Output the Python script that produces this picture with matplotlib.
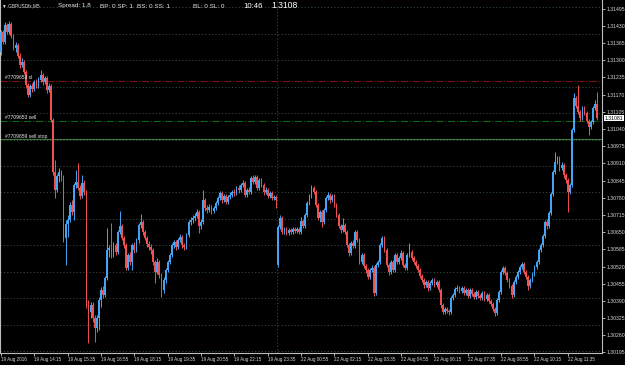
import matplotlib
matplotlib.use("Agg")
import matplotlib.pyplot as plt
import matplotlib.transforms as mtransforms
import numpy as np

# GBPUSD M5 candles, 19 Aug 2016 12:55 -> 22 Aug 2016 (server time)
opens = [
    1.31331, 1.31407, 1.31369, 1.31433, 1.31407, 1.31437, 1.31392, 1.31347, 1.31358, 1.31316,
    1.31282, 1.31294, 1.31256, 1.31207, 1.31169, 1.31203, 1.31192, 1.31218, 1.31203, 1.31226,
    1.31244, 1.31218, 1.31233, 1.31188, 1.31203, 1.31074, 1.30877, 1.30810, 1.30862, 1.30877,
    1.30855, 1.30629, 1.30682, 1.30697, 1.30753, 1.30726, 1.30829, 1.30840, 1.30818, 1.30787,
    1.30837, 1.30802, 1.30375, 1.30348, 1.30375, 1.30326, 1.30289, 1.30326, 1.30394, 1.30432,
    1.30413, 1.30478, 1.30583, 1.30591, 1.30564, 1.30602, 1.30575, 1.30651, 1.30674, 1.30629,
    1.30602, 1.30516, 1.30564, 1.30538, 1.30602, 1.30583, 1.30621, 1.30678, 1.30689, 1.30651,
    1.30629, 1.30606, 1.30595, 1.30583, 1.30538, 1.30500, 1.30538, 1.30489, 1.30432, 1.30470,
    1.30508, 1.30538, 1.30564, 1.30602, 1.30613, 1.30595, 1.30621, 1.30633, 1.30602, 1.30595,
    1.30640, 1.30689, 1.30697, 1.30704, 1.30711, 1.30726, 1.30674, 1.30689, 1.30772, 1.30742,
    1.30734, 1.30746, 1.30730, 1.30742, 1.30761, 1.30780, 1.30799, 1.30772, 1.30787, 1.30764,
    1.30784, 1.30791, 1.30802, 1.30799, 1.30818, 1.30810, 1.30829, 1.30837, 1.30791, 1.30810,
    1.30802, 1.30855, 1.30840, 1.30859, 1.30818, 1.30848, 1.30829, 1.30802, 1.30810, 1.30787,
    1.30799, 1.30780, 1.30784, 1.30527, 1.30671, 1.30704, 1.30651, 1.30663, 1.30648, 1.30659,
    1.30651, 1.30663, 1.30655, 1.30663, 1.30651, 1.30693, 1.30674, 1.30715, 1.30761, 1.30787,
    1.30818, 1.30802, 1.30753, 1.30704, 1.30726, 1.30689, 1.30734, 1.30780, 1.30791, 1.30772,
    1.30787, 1.30753, 1.30715, 1.30674, 1.30659, 1.30678, 1.30651, 1.30602, 1.30572, 1.30610,
    1.30598, 1.30651, 1.30621, 1.30538, 1.30564, 1.30523, 1.30508, 1.30482, 1.30508, 1.30516,
    1.30421, 1.30527, 1.30538, 1.30602, 1.30629, 1.30583, 1.30527, 1.30500, 1.30538, 1.30508,
    1.30564, 1.30538, 1.30553, 1.30572, 1.30527, 1.30516, 1.30564, 1.30575, 1.30553, 1.30538,
    1.30523, 1.30508, 1.30485, 1.30470, 1.30451, 1.30462, 1.30440, 1.30459, 1.30470, 1.30451,
    1.30462, 1.30432, 1.30375, 1.30348, 1.30360, 1.30352, 1.30348, 1.30402, 1.30413, 1.30436,
    1.30440, 1.30428, 1.30440, 1.30421, 1.30432, 1.30409, 1.30432, 1.30417, 1.30406, 1.30424,
    1.30409, 1.30402, 1.30421, 1.30398, 1.30413, 1.30390, 1.30379, 1.30360, 1.30345, 1.30394,
    1.30424, 1.30500, 1.30516, 1.30497, 1.30470, 1.30447, 1.30413, 1.30462, 1.30482, 1.30500,
    1.30520, 1.30531, 1.30500, 1.30482, 1.30447, 1.30470, 1.30493, 1.30520, 1.30538, 1.30583,
    1.30602, 1.30636, 1.30689, 1.30674, 1.30723, 1.30795, 1.30877, 1.30915, 1.30931, 1.30893,
    1.30904, 1.30866, 1.30848, 1.30802, 1.30829, 1.31037, 1.31158, 1.31127, 1.31104, 1.31082,
    1.31120, 1.31101, 1.31070, 1.31048, 1.31066, 1.31120, 1.31135,
]
highs = [
    1.31415, 1.31415, 1.31445, 1.31441, 1.31449, 1.31445, 1.31399, 1.31369, 1.31365, 1.31328,
    1.31309, 1.31301, 1.31263, 1.31214, 1.31210, 1.31214, 1.31226, 1.31229, 1.31237, 1.31263,
    1.31252, 1.31241, 1.31241, 1.31214, 1.31210, 1.31082, 1.30923, 1.30870, 1.30893, 1.30885,
    1.30866, 1.30697, 1.30715, 1.30764, 1.30772, 1.30837, 1.30885, 1.30912, 1.30829, 1.30866,
    1.30848, 1.30810, 1.30394, 1.30386, 1.30386, 1.30337, 1.30337, 1.30406, 1.30444, 1.30447,
    1.30485, 1.30667, 1.30602, 1.30686, 1.30613, 1.30610, 1.30659, 1.30730, 1.30682, 1.30636,
    1.30610, 1.30572, 1.30575, 1.30610, 1.30613, 1.30629, 1.30686, 1.30719, 1.30697, 1.30659,
    1.30636, 1.30617, 1.30606, 1.30591, 1.30546, 1.30553, 1.30546, 1.30497, 1.30482, 1.30516,
    1.30546, 1.30572, 1.30610, 1.30621, 1.30621, 1.30629, 1.30644, 1.30640, 1.30610, 1.30648,
    1.30697, 1.30708, 1.30715, 1.30723, 1.30738, 1.30734, 1.30700, 1.30810, 1.30780, 1.30753,
    1.30757, 1.30753, 1.30749, 1.30768, 1.30787, 1.30806, 1.30806, 1.30795, 1.30795, 1.30791,
    1.30802, 1.30810, 1.30814, 1.30825, 1.30829, 1.30837, 1.30848, 1.30844, 1.30818, 1.30822,
    1.30862, 1.30866, 1.30866, 1.30866, 1.30855, 1.30855, 1.30837, 1.30822, 1.30818, 1.30806,
    1.30806, 1.30791, 1.30791, 1.30678, 1.30715, 1.30711, 1.30671, 1.30671, 1.30667, 1.30667,
    1.30671, 1.30671, 1.30671, 1.30671, 1.30708, 1.30700, 1.30723, 1.30768, 1.30795, 1.30829,
    1.30825, 1.30810, 1.30761, 1.30734, 1.30734, 1.30742, 1.30787, 1.30802, 1.30799, 1.30795,
    1.30795, 1.30761, 1.30723, 1.30682, 1.30704, 1.30686, 1.30659, 1.30610, 1.30617, 1.30621,
    1.30659, 1.30659, 1.30629, 1.30572, 1.30572, 1.30531, 1.30516, 1.30516, 1.30527, 1.30523,
    1.30535, 1.30546, 1.30610, 1.30636, 1.30636, 1.30591, 1.30535, 1.30546, 1.30546, 1.30572,
    1.30572, 1.30560, 1.30583, 1.30579, 1.30535, 1.30572, 1.30610, 1.30583, 1.30560, 1.30546,
    1.30531, 1.30516, 1.30493, 1.30478, 1.30470, 1.30470, 1.30466, 1.30478, 1.30478, 1.30470,
    1.30470, 1.30440, 1.30383, 1.30368, 1.30368, 1.30360, 1.30409, 1.30421, 1.30444, 1.30451,
    1.30447, 1.30447, 1.30447, 1.30440, 1.30440, 1.30440, 1.30440, 1.30424, 1.30432, 1.30432,
    1.30417, 1.30428, 1.30428, 1.30421, 1.30421, 1.30398, 1.30386, 1.30368, 1.30402, 1.30432,
    1.30508, 1.30523, 1.30523, 1.30504, 1.30478, 1.30455, 1.30470, 1.30489, 1.30508, 1.30527,
    1.30538, 1.30538, 1.30508, 1.30489, 1.30478, 1.30500, 1.30527, 1.30546, 1.30591, 1.30610,
    1.30644, 1.30697, 1.30700, 1.30730, 1.30802, 1.30885, 1.30953, 1.30938, 1.30938, 1.30915,
    1.30912, 1.30874, 1.30855, 1.30837, 1.31044, 1.31176, 1.31165, 1.31207, 1.31112, 1.31127,
    1.31127, 1.31108, 1.31078, 1.31074, 1.31127, 1.31150, 1.31180,
]
lows = [
    1.31320, 1.31362, 1.31362, 1.31399, 1.31399, 1.31384, 1.31339, 1.31331, 1.31309, 1.31271,
    1.31275, 1.31248, 1.31195, 1.31161, 1.31161, 1.31180, 1.31184, 1.31195, 1.31195, 1.31218,
    1.31207, 1.31210, 1.31176, 1.31180, 1.31066, 1.30866, 1.30780, 1.30802, 1.30840, 1.30844,
    1.30613, 1.30527, 1.30633, 1.30689, 1.30715, 1.30697, 1.30818, 1.30810, 1.30776, 1.30780,
    1.30791, 1.30364, 1.30232, 1.30326, 1.30311, 1.30235, 1.30273, 1.30281, 1.30368, 1.30402,
    1.30406, 1.30470, 1.30557, 1.30553, 1.30557, 1.30564, 1.30568, 1.30644, 1.30621, 1.30591,
    1.30508, 1.30508, 1.30527, 1.30508, 1.30572, 1.30575, 1.30610, 1.30667, 1.30640, 1.30621,
    1.30595, 1.30583, 1.30568, 1.30527, 1.30459, 1.30493, 1.30478, 1.30406, 1.30421, 1.30459,
    1.30500, 1.30531, 1.30557, 1.30591, 1.30583, 1.30587, 1.30613, 1.30591, 1.30583, 1.30587,
    1.30633, 1.30678, 1.30686, 1.30693, 1.30704, 1.30648, 1.30663, 1.30682, 1.30730, 1.30723,
    1.30726, 1.30719, 1.30723, 1.30734, 1.30753, 1.30772, 1.30761, 1.30764, 1.30757, 1.30757,
    1.30776, 1.30784, 1.30787, 1.30791, 1.30799, 1.30802, 1.30822, 1.30784, 1.30784, 1.30795,
    1.30795, 1.30833, 1.30833, 1.30810, 1.30810, 1.30822, 1.30791, 1.30795, 1.30780, 1.30780,
    1.30772, 1.30772, 1.30742, 1.30520, 1.30663, 1.30644, 1.30644, 1.30640, 1.30640, 1.30644,
    1.30644, 1.30648, 1.30648, 1.30644, 1.30644, 1.30667, 1.30667, 1.30708, 1.30753, 1.30780,
    1.30795, 1.30746, 1.30697, 1.30689, 1.30671, 1.30682, 1.30726, 1.30772, 1.30761, 1.30764,
    1.30746, 1.30708, 1.30667, 1.30648, 1.30651, 1.30644, 1.30595, 1.30560, 1.30564, 1.30591,
    1.30591, 1.30613, 1.30531, 1.30531, 1.30516, 1.30497, 1.30474, 1.30474, 1.30500, 1.30409,
    1.30413, 1.30520, 1.30531, 1.30595, 1.30575, 1.30520, 1.30489, 1.30493, 1.30500, 1.30500,
    1.30531, 1.30531, 1.30546, 1.30520, 1.30508, 1.30508, 1.30557, 1.30546, 1.30531, 1.30516,
    1.30500, 1.30478, 1.30462, 1.30440, 1.30444, 1.30428, 1.30432, 1.30451, 1.30444, 1.30444,
    1.30424, 1.30364, 1.30341, 1.30341, 1.30345, 1.30337, 1.30341, 1.30394, 1.30406, 1.30428,
    1.30421, 1.30421, 1.30413, 1.30413, 1.30402, 1.30402, 1.30409, 1.30398, 1.30398, 1.30402,
    1.30394, 1.30394, 1.30390, 1.30390, 1.30383, 1.30371, 1.30352, 1.30333, 1.30337, 1.30386,
    1.30417, 1.30493, 1.30489, 1.30462, 1.30440, 1.30402, 1.30406, 1.30455, 1.30474, 1.30493,
    1.30512, 1.30493, 1.30474, 1.30432, 1.30440, 1.30462, 1.30485, 1.30512, 1.30531, 1.30575,
    1.30595, 1.30629, 1.30663, 1.30667, 1.30715, 1.30787, 1.30870, 1.30908, 1.30881, 1.30885,
    1.30855, 1.30837, 1.30726, 1.30795, 1.30822, 1.31029, 1.31120, 1.31097, 1.31070, 1.31074,
    1.31093, 1.31063, 1.31018, 1.31040, 1.31059, 1.31112, 1.31074,
]
closes = [
    1.31407, 1.31369, 1.31433, 1.31407, 1.31437, 1.31392, 1.31347, 1.31358, 1.31316, 1.31282,
    1.31294, 1.31256, 1.31207, 1.31169, 1.31203, 1.31192, 1.31218, 1.31203, 1.31226, 1.31244,
    1.31218, 1.31233, 1.31188, 1.31203, 1.31074, 1.30877, 1.30810, 1.30862, 1.30877, 1.30855,
    1.30629, 1.30682, 1.30697, 1.30753, 1.30726, 1.30829, 1.30840, 1.30818, 1.30787, 1.30837,
    1.30802, 1.30375, 1.30348, 1.30375, 1.30326, 1.30289, 1.30326, 1.30394, 1.30432, 1.30413,
    1.30478, 1.30583, 1.30591, 1.30564, 1.30602, 1.30575, 1.30651, 1.30674, 1.30629, 1.30602,
    1.30516, 1.30564, 1.30538, 1.30602, 1.30583, 1.30621, 1.30678, 1.30689, 1.30651, 1.30629,
    1.30606, 1.30595, 1.30583, 1.30538, 1.30500, 1.30538, 1.30489, 1.30432, 1.30470, 1.30508,
    1.30538, 1.30564, 1.30602, 1.30613, 1.30595, 1.30621, 1.30633, 1.30602, 1.30595, 1.30640,
    1.30689, 1.30697, 1.30704, 1.30711, 1.30726, 1.30674, 1.30689, 1.30772, 1.30742, 1.30734,
    1.30746, 1.30730, 1.30742, 1.30761, 1.30780, 1.30799, 1.30772, 1.30787, 1.30764, 1.30784,
    1.30791, 1.30802, 1.30799, 1.30818, 1.30810, 1.30829, 1.30837, 1.30791, 1.30810, 1.30802,
    1.30855, 1.30840, 1.30859, 1.30818, 1.30848, 1.30829, 1.30802, 1.30810, 1.30787, 1.30799,
    1.30780, 1.30784, 1.30772, 1.30671, 1.30704, 1.30651, 1.30663, 1.30648, 1.30659, 1.30651,
    1.30663, 1.30655, 1.30663, 1.30651, 1.30693, 1.30674, 1.30715, 1.30761, 1.30787, 1.30818,
    1.30802, 1.30753, 1.30704, 1.30726, 1.30689, 1.30734, 1.30780, 1.30791, 1.30772, 1.30787,
    1.30753, 1.30715, 1.30674, 1.30659, 1.30678, 1.30651, 1.30602, 1.30572, 1.30610, 1.30598,
    1.30651, 1.30621, 1.30538, 1.30564, 1.30523, 1.30508, 1.30482, 1.30508, 1.30516, 1.30421,
    1.30527, 1.30538, 1.30602, 1.30629, 1.30583, 1.30527, 1.30500, 1.30538, 1.30508, 1.30564,
    1.30538, 1.30553, 1.30572, 1.30527, 1.30516, 1.30564, 1.30575, 1.30553, 1.30538, 1.30523,
    1.30508, 1.30485, 1.30470, 1.30451, 1.30462, 1.30440, 1.30459, 1.30470, 1.30451, 1.30462,
    1.30432, 1.30375, 1.30348, 1.30360, 1.30352, 1.30348, 1.30402, 1.30413, 1.30436, 1.30440,
    1.30428, 1.30440, 1.30421, 1.30432, 1.30409, 1.30432, 1.30417, 1.30406, 1.30424, 1.30409,
    1.30402, 1.30421, 1.30398, 1.30413, 1.30390, 1.30379, 1.30360, 1.30345, 1.30394, 1.30424,
    1.30500, 1.30516, 1.30497, 1.30470, 1.30447, 1.30413, 1.30462, 1.30482, 1.30500, 1.30520,
    1.30531, 1.30500, 1.30482, 1.30447, 1.30470, 1.30493, 1.30520, 1.30538, 1.30583, 1.30602,
    1.30636, 1.30689, 1.30674, 1.30723, 1.30795, 1.30877, 1.30915, 1.30931, 1.30893, 1.30904,
    1.30866, 1.30848, 1.30802, 1.30829, 1.31037, 1.31158, 1.31127, 1.31104, 1.31082, 1.31120,
    1.31101, 1.31070, 1.31048, 1.31066, 1.31120, 1.31135, 1.31081,
]

time_labels = ["19 Aug 2016", "19 Aug 14:15", "19 Aug 15:35", "19 Aug 16:55", "19 Aug 18:15",
               "19 Aug 19:35", "19 Aug 20:55", "19 Aug 22:15", "19 Aug 23:35", "22 Aug 00:55",
               "22 Aug 02:15", "22 Aug 03:35", "22 Aug 04:55", "22 Aug 06:15", "22 Aug 07:35",
               "22 Aug 08:55", "22 Aug 10:15", "22 Aug 11:35"]
price_ticks = [1.31495, 1.31430, 1.31365, 1.31300, 1.31235, 1.31170, 1.31105, 1.31040,
               1.30975, 1.30910, 1.30845, 1.30780, 1.30715, 1.30650, 1.30585, 1.30520,
               1.30455, 1.30390, 1.30325, 1.30260, 1.30195]
grid_levels = [1.3150, 1.3140, 1.3130, 1.3120, 1.3110, 1.3100, 1.3090, 1.3080, 1.3070,
               1.3060, 1.3050, 1.3040, 1.3030, 1.3020]
order_labels = ["#7709653 sl", "#7709653 sell", "#7709659 sell stop"]
order_prices = [1.31222, 1.31072, 1.31001]
last_price = 1.31081
header = [("Spread: 1.8", 58), ("BP: 0 SP: 1", 100), ("BS: 0 SS: 1", 137), ("BL: 0 SL: 0", 193)]

UP, DN = "#45a5f5", "#f05050"
GRID = "#2f4a42"
W, H = 625, 365

plt.rcParams["font.family"] = ["Liberation Sans", "DejaVu Sans"]
fig = plt.figure(figsize=(W / 100, H / 100), dpi=100, facecolor="black")
ax = fig.add_axes([0, (H - 353) / H, 602 / W, 353 / H], facecolor="black")

o = np.array(opens); hi = np.array(highs); lo = np.array(lows); c = np.array(closes)
x = np.arange(len(c))
cols = np.where(c >= o, UP, DN)

for g in grid_levels:
    ax.axhline(g, color=GRID, lw=0.7, ls=(0, (1.2, 2.2)), zorder=1)
ax.axvline(132.6, color=GRID, lw=0.7, ls=(0, (1.2, 2.2)), zorder=1)

ax.axhline(order_prices[0], color="#7a1414", lw=0.8, ls="-.", zorder=1)
ax.axhline(order_prices[1], color="#0f6a0f", lw=0.8, ls="-.", zorder=1)
ax.axhline(order_prices[2], color="#3c7a3c", lw=0.8, zorder=1)

ax.vlines(x, lo, hi, colors=cols, lw=0.7, zorder=2)
body = np.maximum(np.abs(c - o), 0.00003)
ax.bar(x, body, bottom=np.minimum(o, c), width=0.85, color=cols, linewidth=0, zorder=3)

ax.set_xlim(-0.46, 288.4)
ax.set_ylim(1.30193, 1.31528)

ax.yaxis.tick_right()
ax.set_yticks(price_ticks)
ax.set_yticklabels([f"{v:.5f}" for v in price_ticks])
ax.set_xticks(np.arange(0, 16 * len(time_labels), 16))
ax.set_xticklabels(time_labels, ha="left")
ax.tick_params(axis="y", colors="#c8c8c8", labelcolor="#d8d8d8", labelsize=3.7,
               length=2.2, width=0.6, pad=1.2)
ax.tick_params(axis="x", colors="#c8c8c8", labelcolor="#d8d8d8", labelsize=3.3,
               length=2.2, width=0.6, pad=1.0)
for s in ("left", "right", "bottom"):
    ax.spines[s].set_color("#bdbdbd"); ax.spines[s].set_linewidth(0.8)
ax.spines["top"].set_visible(False)

tr = mtransforms.blended_transform_factory(ax.transAxes, ax.transData)
for lab, p in zip(order_labels, order_prices):
    ax.text(0.008, p + 0.00003, lab, transform=tr, color="#e8e8e8", fontsize=3.6,
            va="bottom", ha="left", zorder=4)
ax.text(1.004, last_price, f"{last_price:.5f}", transform=tr, color="black", fontsize=3.7,
        va="center", ha="left", clip_on=False, zorder=5,
        bbox=dict(fc="white", ec="none", pad=0.5))

fig.text(2 / W, 1 - 6 / H, "\u25bc GBPUSDfx,M5", color="#e0e0e0", fontsize=3.4, va="center")
for txt, px in header:
    fig.text(px / W, 1 - 6 / H, txt, color="#e8e8e8", fontsize=4.6, va="center")
fig.text(243 / W, 1 - 6 / H, "10:46", color="white", fontsize=5.6, va="center")
fig.text(271 / W, 1 - 6 / H, f"{last_price:.4f}", color="white", fontsize=6.2, va="center")

fig.savefig("out.png", dpi=100, facecolor="black")
